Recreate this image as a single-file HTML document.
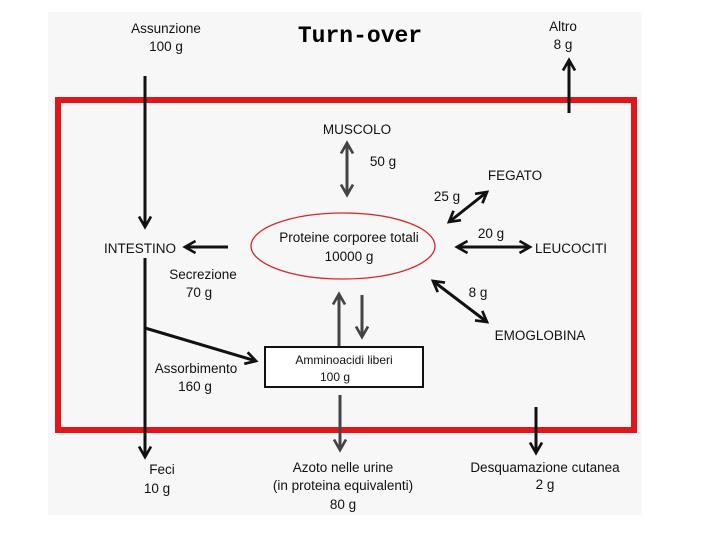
<!DOCTYPE html>
<html><head><meta charset="utf-8"><style>
html,body{margin:0;padding:0;background:#fff;}
svg{display:block;}
text{font-family:"Liberation Sans",sans-serif;font-size:13.5px;fill:#111;text-anchor:middle;}
</style></head><body>
<svg width="720" height="540" viewBox="0 0 720 540" xmlns="http://www.w3.org/2000/svg">
<defs>
<marker id="a" viewBox="0 0 10 10" refX="8" refY="5" markerWidth="5" markerHeight="5" orient="auto-start-reverse" markerUnits="strokeWidth">
<path d="M1,1 L8,5 L1,9" fill="none" stroke="#111" stroke-width="1.8"/>
</marker>
<marker id="g" viewBox="0 0 10 10" refX="8" refY="5" markerWidth="5" markerHeight="5" orient="auto-start-reverse" markerUnits="strokeWidth">
<path d="M1,1 L8,5 L1,9" fill="none" stroke="#444" stroke-width="1.8"/>
</marker>
</defs>
<rect x="48" y="12" width="594" height="503" fill="#f7f7f7"/>
<rect x="58" y="100" width="576" height="330" fill="none" stroke="#e0161b" stroke-width="6"/>
<text x="360" y="42" style="font-family:'Liberation Mono',monospace;font-size:23px;font-weight:bold;fill:#000">Turn-over</text>
<text x="166" y="33">Assunzione</text><text x="166" y="51">100  g</text>
<text x="563" y="31">Altro</text><text x="563" y="49">8  g</text>
<g stroke="#111" stroke-width="3" fill="none">
<line x1="145" y1="76" x2="145" y2="227" marker-end="url(#a)"/>
<line x1="569" y1="113" x2="569" y2="60" marker-end="url(#a)"/>
<line x1="228" y1="247" x2="185" y2="247" marker-end="url(#a)"/>
<line x1="145" y1="258" x2="145" y2="457" marker-end="url(#a)"/>
<line x1="145" y1="328" x2="256" y2="361" marker-end="url(#a)"/>
<line x1="457" y1="247" x2="530" y2="247" marker-start="url(#a)" marker-end="url(#a)"/>
<line x1="449" y1="222" x2="487" y2="192" marker-start="url(#a)" marker-end="url(#a)"/>
<line x1="433" y1="281" x2="487" y2="322" marker-start="url(#a)" marker-end="url(#a)"/>
<line x1="536" y1="407" x2="536" y2="453" marker-end="url(#a)"/>
</g>
<g stroke="#444" stroke-width="3" fill="none">
<line x1="347" y1="143" x2="347" y2="195" marker-start="url(#g)" marker-end="url(#g)"/>
<line x1="339" y1="352" x2="339" y2="294" marker-end="url(#g)"/>
<line x1="362" y1="295" x2="362" y2="337" marker-end="url(#g)"/>
<line x1="340" y1="395" x2="340" y2="450" marker-end="url(#g)"/>
</g>
<text x="357" y="134">MUSCOLO</text>
<text x="383" y="166">50  g</text>
<text x="515" y="180">FEGATO</text>
<text x="447" y="201">25 g</text>
<ellipse cx="343" cy="246" rx="92" ry="33" fill="none" stroke="#d42a2a" stroke-width="1.3"/>
<text x="349" y="242">Proteine corporee totali</text>
<text x="349" y="261">10000  g</text>
<text x="491" y="238">20 g</text>
<text x="571" y="253">LEUCOCITI</text>
<text x="140" y="253">INTESTINO</text>
<text x="203" y="279">Secrezione</text><text x="199" y="297">70  g</text>
<text x="478" y="297">8 g</text>
<text x="540" y="340">EMOGLOBINA</text>
<rect x="265" y="347" width="158" height="40" fill="#fff" stroke="#111" stroke-width="2"/>
<text x="344" y="364" style="font-size:12px">Amminoacidi liberi</text>
<text x="335" y="381" style="font-size:12px">100  g</text>
<text x="196" y="373">Assorbimento</text><text x="195" y="391">160  g</text>
<text x="162" y="474">Feci</text><text x="157" y="493">10  g</text>
<text x="343" y="472">Azoto nelle urine</text>
<text x="343" y="490">(in proteina equivalenti)</text>
<text x="343" y="509">80  g</text>
<text x="545" y="472">Desquamazione cutanea</text><text x="545" y="489">2  g</text>
</svg>
</body></html>
